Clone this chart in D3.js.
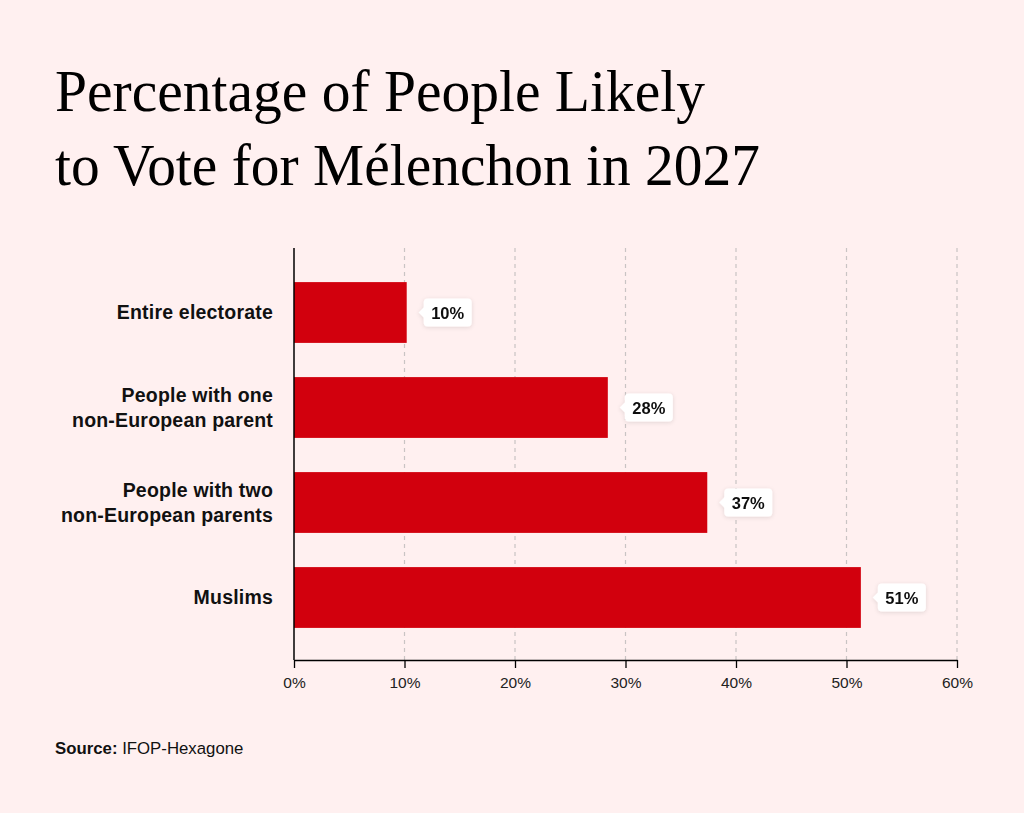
<!DOCTYPE html>
<html>
<head>
<meta charset="utf-8">
<script src="https://cdn.jsdelivr.net/npm/d3@7"></script>
<style>
  body { margin: 0; background: #fff0f0; }
  svg { display: block; }
  .cat { font-family: "Liberation Sans", Arial, sans-serif; font-weight: bold; font-size: 19.5px; letter-spacing: 0.2px; fill: #111; }
  .tick text { font-family: "Liberation Sans", Arial, sans-serif; font-size: 15.5px; fill: #222; }
  .val { font-family: "Liberation Sans", Arial, sans-serif; font-weight: bold; font-size: 16.5px; fill: #111; }
</style>
</head>
<body>
<div id="chart"></div>
<script>
var svgWidth = 1024;
var svgHeight = 813;

var margin = { top: 248, right: 67, bottom: 153, left: 294 };
var width = svgWidth - margin.left - margin.right;
var height = svgHeight - margin.top - margin.bottom;

// data
var categories = ["Entire electorate", "People with one\nnon-European parent", "People with two\nnon-European parents", "Muslims"];
var values = [10.2, 28.4, 37.4, 51.3];
var valueLabels = ["10%", "28%", "37%", "51%"];
var xTicks = [0, 10, 20, 30, 40, 50, 60];
var titleLines = ["Percentage of People Likely", "to Vote for Mélenchon in 2027"];

var svg = d3.select("#chart")
  .append("svg")
  .attr("width", svgWidth)
  .attr("height", svgHeight);

svg.append("rect")
  .attr("width", svgWidth)
  .attr("height", svgHeight)
  .attr("fill", "#fff0f0");

// soft shadow for the value boxes
var filter = svg.append("defs").append("filter")
  .attr("id", "shadow")
  .attr("x", "-30%").attr("y", "-30%")
  .attr("width", "160%").attr("height", "160%");
filter.append("feDropShadow")
  .attr("dx", 0).attr("dy", 1)
  .attr("stdDeviation", 2)
  .attr("flood-color", "#000")
  .attr("flood-opacity", 0.12);

// title
var titleWidths = [650, 705];
svg.append("g").selectAll("text")
  .data(titleLines)
  .enter()
  .append("text")
  .attr("x", 55)
  .attr("y", (d, i) => 111 + i * 74)
  .attr("textLength", (d, i) => titleWidths[i])
  .attr("lengthAdjust", "spacingAndGlyphs")
  .style("font-family", "'Liberation Serif', 'Times New Roman', serif")
  .style("font-size", "59px")
  .attr("fill", "#000")
  .text(d => d);

var chartGroup = svg.append("g")
  .attr("transform", `translate(${margin.left}, ${margin.top})`);

var xScale = d3.scaleLinear()
  .domain([0, 60])
  .range([0, width]);

var yScale = d3.scaleBand()
  .domain(categories)
  .range([17, 397])
  .paddingInner(0.36)
  .paddingOuter(0.18);

// dashed gridlines
chartGroup.append("g").selectAll("line")
  .data(xTicks.slice(1))
  .enter()
  .append("line")
  .attr("x1", d => xScale(d))
  .attr("x2", d => xScale(d))
  .attr("y1", 0)
  .attr("y2", height)
  .attr("stroke", "#c9c4c4")
  .attr("stroke-width", 1.2)
  .attr("stroke-dasharray", "4,4");

// bars
chartGroup.selectAll(".bar")
  .data(values)
  .enter()
  .append("rect")
  .attr("class", "bar")
  .attr("x", 0)
  .attr("y", (d, i) => yScale(categories[i]))
  .attr("width", d => xScale(d))
  .attr("height", yScale.bandwidth())
  .attr("fill", "#d2000d");

// value boxes with little pointer
var boxW = 48, boxH = 28;
var valGroup = chartGroup.selectAll(".valbox")
  .data(values)
  .enter()
  .append("g")
  .attr("class", "valbox")
  .attr("transform", (d, i) => `translate(${xScale(d) + 17}, ${yScale(categories[i]) + yScale.bandwidth() / 2})`)
  .attr("filter", "url(#shadow)");

valGroup.append("path")
  .attr("d", `M-5,0 L1,-6 L1,6 Z`)
  .attr("fill", "#fff");

valGroup.append("rect")
  .attr("x", 0)
  .attr("y", -boxH / 2)
  .attr("width", boxW)
  .attr("height", boxH)
  .attr("rx", 4)
  .attr("fill", "#fff");

valGroup.append("text")
  .attr("class", "val")
  .attr("x", boxW / 2)
  .attr("y", 6)
  .attr("text-anchor", "middle")
  .text((d, i) => valueLabels[i]);

// category labels
var catGroup = chartGroup.selectAll(".catlabel")
  .data(categories)
  .enter()
  .append("text")
  .attr("class", "cat")
  .attr("text-anchor", "end")
  .attr("transform", d => `translate(-21, ${yScale(d) + yScale.bandwidth() / 2})`);

catGroup.each(function(d) {
  var lines = d.split("\n");
  var t = d3.select(this);
  lines.forEach((line, j) => {
    t.append("tspan")
      .attr("x", 0)
      .attr("y", 6.8 - (lines.length - 1) * 12.5 + j * 25)
      .text(line);
  });
});

// x axis
var bottomAxis = d3.axisBottom(xScale)
  .tickValues(xTicks)
  .tickSize(8)
  .tickSizeOuter(0)
  .tickFormat(d => d + "%");

var xAxis = chartGroup.append("g")
  .attr("transform", `translate(0, ${height})`)
  .call(bottomAxis);

xAxis.select(".domain").attr("stroke", "#000").attr("stroke-width", 1.5);
xAxis.selectAll(".tick line").attr("stroke", "#000").attr("stroke-width", 1.3);
xAxis.selectAll(".tick text").attr("y", 17).attr("dy", "0.71em");

// y axis line
chartGroup.append("line")
  .attr("x1", 0).attr("x2", 0)
  .attr("y1", 0).attr("y2", height)
  .attr("stroke", "#000")
  .attr("stroke-width", 1.5);

// source note
var source = svg.append("text")
  .attr("x", 55)
  .attr("y", 754)
  .style("font-family", "'Liberation Sans', Arial, sans-serif")
  .style("font-size", "16.8px")
  .attr("fill", "#111");
source.append("tspan").attr("font-weight", "bold").text("Source: ");
source.append("tspan").text("IFOP-Hexagone");
</script>
</body>
</html>
